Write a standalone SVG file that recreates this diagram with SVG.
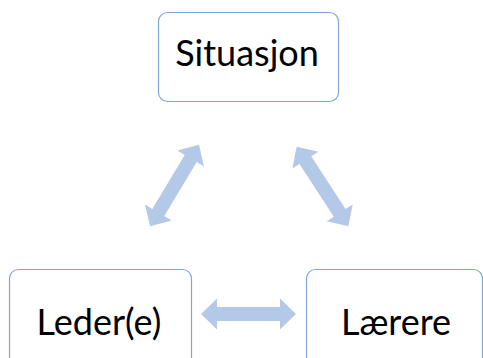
<svg xmlns="http://www.w3.org/2000/svg" width="483" height="358" viewBox="0 0 483 358">
<style>
.box{fill:#fff;stroke:#7FA6D8;stroke-width:1.2}
.lbl{font-family:Lato,"Liberation Sans",Arial,sans-serif;font-size:36px;fill:#000;text-anchor:middle}
.arr{fill:#B4C8E7}
</style>
<defs>
<path id="dbl" d="M-47.5,0 L-31.5,-15.5 L-31.5,-7 L31.5,-7 L31.5,-15.5 L47.5,0 L31.5,15.5 L31.5,7 L-31.5,7 L-31.5,15.5 Z"/>
</defs>
<rect width="483" height="358" fill="#fff"/>
<g id="connectors">
<use href="#dbl" class="arr" transform="translate(248.5,314)"/>
<use href="#dbl" class="arr" transform="translate(174.5,185.5) rotate(-59)"/>
<use href="#dbl" class="arr" transform="translate(322.5,186.5) rotate(57)"/>
</g>
<g id="situasjon">
<rect class="box" x="158.5" y="12.5" width="180" height="89" rx="9"/>
<text class="lbl" x="247" y="66">Situasjon</text>
</g>
<g id="leder">
<rect class="box" x="9.5" y="269.5" width="182" height="100" rx="9"/>
<text class="lbl" x="99" y="335">Leder(e)</text>
</g>
<g id="laerere">
<rect class="box" x="306.5" y="269.5" width="176" height="100" rx="9"/>
<text class="lbl" x="396" y="335">Lærere</text>
</g>
</svg>
